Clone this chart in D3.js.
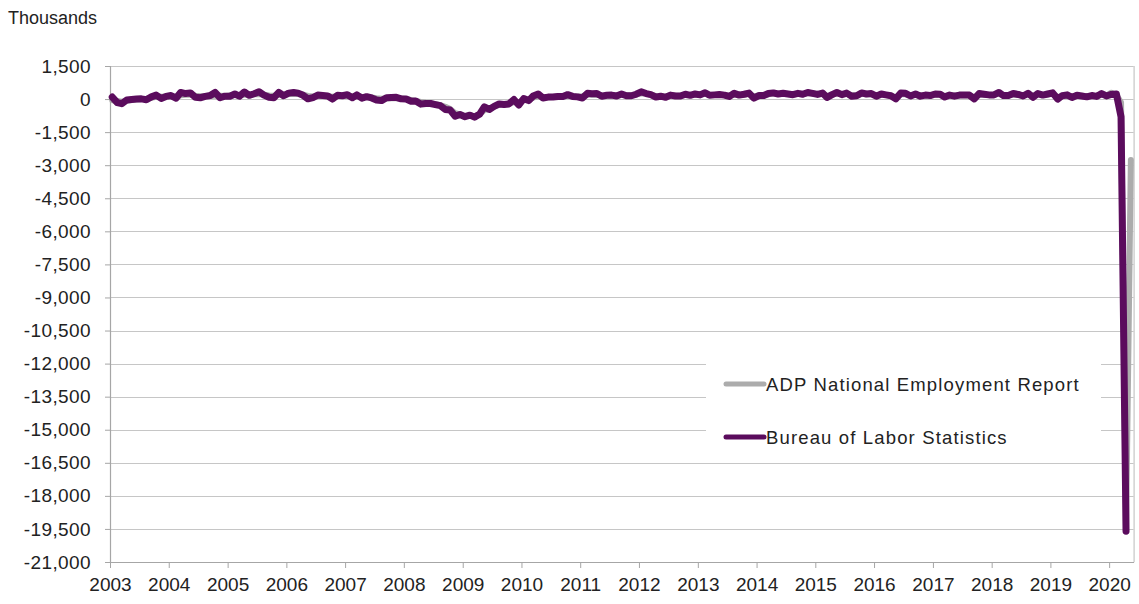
<!DOCTYPE html>
<html>
<head>
<meta charset="utf-8">
<script src="https://d3js.org/d3.v7.min.js"></script>
<style>
  body { margin: 0; background: #fff; }
  text { font-family: "Liberation Sans", Arial, sans-serif; fill: #222; }
</style>
</head>
<body>
<div class="chart"></div>
<script>
var svgWidth = 1139;
var svgHeight = 604;

var margin = { top: 66, right: 5, bottom: 42, left: 110 };
var width = 1023.6;
var height = svgHeight - margin.top - margin.bottom; // 496

// year labels on the x axis
var years = ["2003", "2004", "2005", "2006", "2007", "2008", "2009", "2010", "2011",
  "2012", "2013", "2014", "2015", "2016", "2017", "2018", "2019", "2020"];

var yTicks = [1500, 0, -1500, -3000, -4500, -6000, -7500, -9000, -10500, -12000,
  -13500, -15000, -16500, -18000, -19500, -21000];

// monthly change, thousands, Jan 2003 onward
var blsValues = [
  90, -160, -210, -40, -20, 0, 10, -30, 100, 180, 30, 120,
  160, 40, 300, 250, 280, 80, 60, 120, 160, 300, 60, 130,
  130, 230, 130, 320, 170, 240, 330, 180, 80, 60, 300, 150,
  270, 300, 270, 170, 10, 70, 180, 160, 140, 0, 170, 150,
  200, 60, 190, 40, 110, 50, -40, -70, 60, 70, 80, 10,
  0, -100, -90, -230, -200, -200, -250, -300, -470, -500, -780, -700,
  -800, -730, -820, -690, -350, -470, -330, -220, -250, -220, -20, -270,
  20, -70, 140, 230, 50, 90, 90, 120, 120, 200, 120, 100,
  50, 260, 240, 250, 130, 170, 180, 140, 230, 150, 150, 220,
  330, 250, 200, 90, 130, 80, 180, 140, 140, 220, 170, 230,
  190, 290, 170, 190, 210, 180, 120, 260, 180, 220, 270, 40,
  160, 160, 250, 280, 230, 260, 230, 200, 260, 220, 300, 260,
  210, 270, 70, 200, 300, 200, 270, 130, 150, 280, 230, 250,
  130, 230, 190, 150, 10, 270, 260, 140, 230, 130, 180, 160,
  230, 220, 90, 180, 130, 180, 190, 180, 10, 250, 220, 190,
  190, 300, 160, 160, 250, 210, 140, 260, 80, 250, 180, 230,
  280, 0, 150, 190, 70, 170, 140, 100, 160, 120, 250, 140,
  210, 230, -800, -19600
];

var adpValues = [
  -60, -90, -120, -80, -40, -20, 0, 20, 60, 100, 110, 120,
  110, 120, 170, 200, 190, 150, 130, 130, 140, 160, 150, 140,
  160, 180, 190, 210, 200, 220, 230, 200, 160, 150, 190, 200,
  230, 240, 230, 200, 140, 120, 140, 150, 130, 110, 130, 150,
  150, 120, 120, 100, 90, 70, 40, 20, 30, 40, 50, 30,
  0, -40, -80, -130, -170, -200, -230, -280, -350, -450, -640, -700,
  -780, -740, -780, -700, -500, -440, -340, -260, -230, -200, -140, -140,
  -40, -10, 60, 130, 90, 80, 90, 100, 110, 150, 130, 120,
  130, 200, 210, 200, 150, 160, 170, 160, 190, 170, 170, 200,
  260, 240, 200, 140, 130, 120, 160, 150, 150, 190, 180, 200,
  200, 250, 190, 180, 190, 180, 150, 210, 190, 200, 230, 120,
  170, 170, 220, 250, 230, 250, 230, 210, 240, 220, 270, 250,
  220, 240, 140, 190, 260, 220, 240, 170, 170, 240, 220, 230,
  160, 200, 190, 160, 80, 220, 220, 170, 200, 160, 180, 170,
  210, 210, 140, 170, 150, 170, 180, 170, 80, 210, 200, 190,
  200, 240, 180, 170, 210, 200, 170, 220, 140, 220, 190, 210,
  240, 90, 140, 150, 100, 150, 140, 130, 150, 140, 200, 160,
  290, 180, -150, -19557, -2760
];

var seriesNames = ["ADP National Employment Report", "Bureau of Labor Statistics"];
var seriesColors = ["#acacac", "#5b0c5d"];

var svg = d3
  .select(".chart")
  .append("svg")
  .attr("width", svgWidth)
  .attr("height", svgHeight);

var chartGroup = svg
  .append("g")
  .attr("transform", `translate(${margin.left}, ${margin.top})`);

var start = new Date(2003, 0, 1);
// each month point sits in the middle of its month
function monthDate(i) {
  return new Date(2003, i, 15);
}

var xScale = d3
  .scaleTime()
  .domain([start, new Date(2020, 5, 1)])
  .range([0, width]);

var yScale = d3.scaleLinear().domain([-21000, 1500]).range([height, 0]);

var locale = d3.formatLocale({ decimal: ".", thousands: ",", grouping: [3], currency: ["$", ""], minus: "-" });
var fmt = locale.format(",");

// gridlines
chartGroup
  .selectAll(".grid")
  .data(yTicks)
  .enter()
  .append("line")
  .attr("x1", 0)
  .attr("x2", width)
  .attr("y1", (d) => Math.round(yScale(d)) + 0.5)
  .attr("y2", (d) => Math.round(yScale(d)) + 0.5)
  .attr("stroke", "#c6c6c6")
  .attr("stroke-width", 1.2);

// right border
chartGroup
  .append("line")
  .attr("x1", width + 0.5)
  .attr("x2", width + 0.5)
  .attr("y1", 0)
  .attr("y2", height)
  .attr("stroke", "#c6c6c6")
  .attr("stroke-width", 1.2);

// y axis
var leftAxis = d3.axisLeft(yScale).tickValues(yTicks).tickFormat(fmt).tickSize(5).tickPadding(14);
var yAxis = chartGroup.append("g").call(leftAxis);
yAxis.select(".domain").attr("stroke", "#a6a6a6").attr("stroke-width", 1.2);
yAxis.selectAll(".tick line").attr("stroke", "#a6a6a6");
yAxis.selectAll("text").style("font-size", "19px").style("letter-spacing", "0.4px").attr("fill", "#222");

// x axis
var yearDates = years.map((y) => new Date(+y, 0, 1));
var bottomAxis = d3
  .axisBottom(xScale)
  .tickValues(yearDates)
  .tickFormat((d, i) => years[i])
  .tickSize(6)
  .tickSizeOuter(0)
  .tickPadding(10);
var xAxis = chartGroup.append("g").attr("transform", `translate(0,${height})`).call(bottomAxis);
xAxis.select(".domain").attr("stroke", "#a6a6a6").attr("stroke-width", 1.2);
xAxis.selectAll(".tick line").attr("stroke", "#a6a6a6");
xAxis.selectAll("text").style("font-size", "19px").attr("fill", "#222");

// units label
svg.append("text").attr("x", 8).attr("y", 24).style("font-size", "18px").text("Thousands");

var line = d3
  .line()
  .x((d, i) => xScale(monthDate(i)))
  .y((d) => yScale(d));

// ADP underneath, BLS on top
chartGroup
  .append("path")
  .datum(adpValues)
  .attr("fill", "none")
  .attr("stroke", seriesColors[0])
  .attr("stroke-width", 6)
  .attr("stroke-linejoin", "round")
  .attr("stroke-linecap", "round")
  .attr("d", line);

chartGroup
  .append("path")
  .datum(blsValues)
  .attr("fill", "none")
  .attr("stroke", seriesColors[1])
  .attr("stroke-width", 7)
  .attr("stroke-linejoin", "round")
  .attr("stroke-linecap", "round")
  .attr("d", line);

// legend
var legend = svg.append("g");
legend
  .append("rect")
  .attr("x", 706)
  .attr("y", 345)
  .attr("width", 395)
  .attr("height", 105)
  .attr("fill", "#fff");

var legendItems = legend
  .selectAll(".item")
  .data(seriesNames)
  .enter()
  .append("g")
  .attr("transform", (d, i) => `translate(726, ${384 + i * 53})`);

legendItems
  .append("line")
  .attr("x1", 0)
  .attr("x2", 38)
  .attr("stroke", (d, i) => seriesColors[i])
  .attr("stroke-width", 5)
  .attr("stroke-linecap", "round");

legendItems
  .append("text")
  .attr("x", 40)
  .attr("dy", "0.36em")
  .style("font-size", "18.5px")
  .style("letter-spacing", "1.15px")
  .text((d) => d);
</script>
</body>
</html>
